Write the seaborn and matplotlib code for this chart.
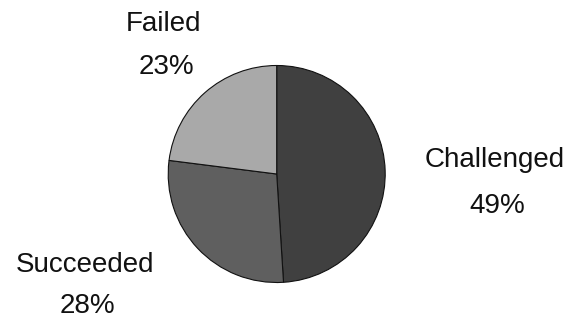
import matplotlib
matplotlib.use("Agg")
import matplotlib.pyplot as plt
import seaborn as sns

categories = ["Challenged", "Succeeded", "Failed"]
percentages = [49, 28, 23]
slice_colors = ["#404040", "#5f5f5f", "#a9a9a9"]

sns.set_theme(style="white")
plt.rcParams["font.family"] = ["Liberation Sans", "DejaVu Sans"]

W, H = 568, 320
fig = plt.figure(figsize=(W / 100, H / 100), dpi=100)
ax = fig.add_axes([0, 0, 1, 1])
ax.set_xlim(0, W)
ax.set_ylim(0, H)
ax.set_axis_off()

cx, cy, r = 276.7, H - 174.0, 108.5
ax.pie(percentages, colors=slice_colors, startangle=90, counterclock=False,
       center=(cx, cy), radius=r, frame=True,
       wedgeprops=dict(edgecolor="#111111", linewidth=0.8))
ax.set_xlim(0, W)
ax.set_ylim(0, H)
ax.set_aspect("equal")
ax.set_axis_off()

# label positions (pixel coords: x center, name baseline, pct baseline)
label_pos = {
    "Challenged": (495, 167, 213),
    "Succeeded": (85, 272, 313),
    "Failed": (164, 31, 74),
}
for cat, pct in zip(categories, percentages):
    x, yb1, yb2 = label_pos[cat]
    ax.text(x, H - yb1, cat, ha="center", va="baseline", fontsize=20, color="#111111")
    ax.text(x + 2, H - yb2, f"{pct}%", ha="center", va="baseline", fontsize=20, color="#111111")

fig.savefig("out.png", dpi=100, facecolor="white")
